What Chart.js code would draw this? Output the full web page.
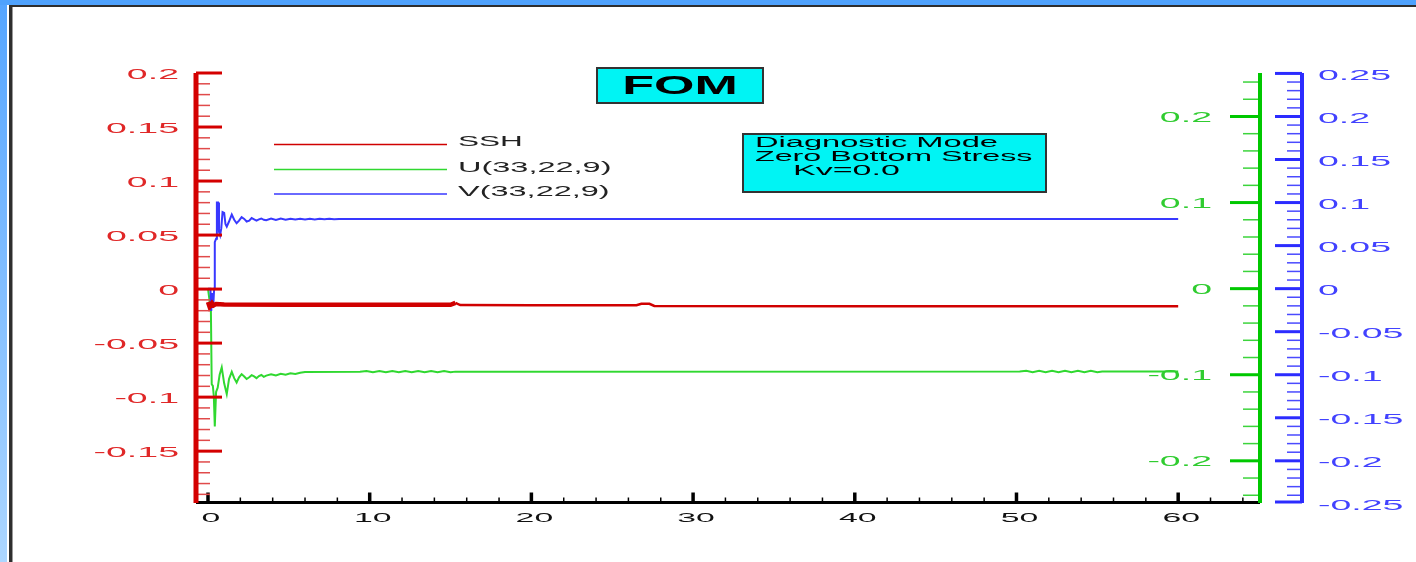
<!DOCTYPE html>
<html>
<head>
<meta charset="utf-8">
<title>FOM</title>
<script src="https://cdn.jsdelivr.net/npm/chart.js@4.4.1/dist/chart.umd.min.js"></script>
<style>
  html, body { margin: 0; padding: 0; background: #fff; overflow: hidden; }
  canvas { display: block; }
</style>
</head>
<body>
<canvas id="c" width="1416" height="562"></canvas>
<script>
// ---- series: time (hours) and values ----
const TIME_SSH = [0, 0.1, 0.25, 0.35, 0.5, 1.0, 5, 10, 15.0, 15.3, 15.6, 20, 26.5, 26.8, 27.3, 27.6, 40, 60];
const SSH      = [-0.012, -0.0165, -0.013, -0.015, -0.0138, -0.0143, -0.0145, -0.0145, -0.0146, -0.0128, -0.0148, -0.0149, -0.0150, -0.0136, -0.0136, -0.0156, -0.0158, -0.0160];

const TIME_U = [0, 0.18, 0.23, 0.3, 0.36, 0.42, 0.5, 0.6, 0.72, 0.85, 1.0, 1.16, 1.3, 1.47, 1.62, 1.77, 1.92, 2.08, 2.24, 2.39, 2.55, 2.7, 2.85, 3.0, 3.15, 3.3, 3.45, 3.6, 3.9, 4.2, 4.5, 4.8, 5.1, 5.4, 5.7, 6.0,
                9.4, 9.8, 10.2, 10.6, 11.0, 11.4, 11.8, 12.2, 12.6, 13.0, 13.4, 13.8, 14.2, 14.6, 15.0, 15.3,
                50.2, 50.6, 51.0, 51.4, 51.8, 52.2, 52.6, 53.0, 53.4, 53.8, 54.2, 54.6, 55.0, 55.3, 60];
const U_VEL  = [0, -0.026, -0.111, -0.113, -0.125, -0.16, -0.12, -0.115, -0.1, -0.0915, -0.11, -0.1225, -0.105, -0.0966, -0.104, -0.109, -0.103, -0.0993, -0.102, -0.105, -0.103, -0.1005, -0.102, -0.104, -0.1015, -0.1003, -0.1025, -0.101, -0.0995, -0.1008, -0.0988, -0.1, -0.0983, -0.0992, -0.0978, -0.0968,
                -0.0965, -0.0957, -0.0972, -0.0957, -0.0972, -0.0957, -0.0972, -0.0957, -0.0972, -0.0957, -0.0972, -0.0957, -0.0972, -0.0957, -0.0972, -0.0964,
                -0.0963, -0.0955, -0.0970, -0.0955, -0.0970, -0.0955, -0.0970, -0.0955, -0.0970, -0.0955, -0.0970, -0.0955, -0.0970, -0.0962, -0.0962];

const TIME_V = [0, 0.15, 0.2, 0.26, 0.32, 0.38, 0.42, 0.5, 0.55, 0.62, 0.68, 0.75, 0.82, 0.9, 1.0, 1.08, 1.16, 1.3, 1.47, 1.62, 1.77, 1.92, 2.08, 2.24, 2.39, 2.55, 2.7, 2.85, 3.0, 3.15, 3.3, 3.45, 3.6, 3.9, 4.2, 4.5, 4.8, 5.1, 5.4, 5.7, 6.0, 6.3, 6.6, 6.9, 7.2, 7.5, 7.8, 8.1, 8.4, 60];
const V_VEL  = [0, 0, -0.026, -0.005, -0.022, 0.0, 0.054, 0.058, 0.1, 0.1, 0.066, 0.062, 0.07, 0.089, 0.088, 0.075, 0.072, 0.078, 0.086, 0.08, 0.076, 0.079, 0.083, 0.081, 0.078, 0.079, 0.082, 0.0805, 0.079, 0.0805, 0.0815, 0.08, 0.0795, 0.0815, 0.0798, 0.0814, 0.08, 0.0813, 0.0802, 0.0813, 0.0803, 0.0813, 0.0804, 0.0812, 0.0805, 0.0812, 0.0806, 0.081, 0.0808, 0.0808];

const SERIES_NAMES = ['SSH', 'U(33,22,9)', 'V(33,22,9)'];

// ---- axis tick labels ----
const X_LABELS   = [0, 10, 20, 30, 40, 50, 60];
const SSH_LABELS = ['0.2', '0.15', '0.1', '0.05', '0', '-0.05', '-0.1', '-0.15'];
const U_LABELS   = ['0.2', '0.1', '0', '-0.1', '-0.2'];
const V_LABELS   = ['0.25', '0.2', '0.15', '0.1', '0.05', '0', '-0.05', '-0.1', '-0.15', '-0.2', '-0.25'];

const TITLE = 'FOM';
const NOTE_LINES = ['Diagnostic Mode', 'Zero Bottom Stress', 'Kv=0.0'];

// ---- colours ----
const RED = '#d40000', RED_TXT = '#e02828';
const GREEN = '#00c800', GREEN_TXT = '#30cc30';
const BLUE = '#2c2cff', BLUE_TXT = '#4242ff';
const LINE_RED = '#d00000', LINE_GREEN = '#30d830', LINE_BLUE = '#3838ff';

const pts = (xs, ys) => xs.map((x, i) => ({ x, y: ys[i] }));

function wideText(ctx, text, x, y, o) {
  ctx.save();
  ctx.font = o.font;
  ctx.fillStyle = o.color;
  ctx.textBaseline = 'middle';
  ctx.textAlign = 'left';
  const w = ctx.measureText(text).width * o.sx;
  const left = o.align === 'right' ? x - w : (o.align === 'center' ? x - w / 2 : x);
  ctx.translate(left, y);
  ctx.scale(o.sx, 1);
  ctx.fillText(text, 0, 0);
  ctx.restore();
}

function hLine(ctx, x0, x1, y, color, w) {
  ctx.strokeStyle = color; ctx.lineWidth = w;
  ctx.beginPath(); ctx.moveTo(x0, y); ctx.lineTo(x1, y); ctx.stroke();
}
function vLine(ctx, x, y0, y1, color, w) {
  ctx.strokeStyle = color; ctx.lineWidth = w;
  ctx.beginPath(); ctx.moveTo(x, y0); ctx.lineTo(x, y1); ctx.stroke();
}

const steps = (from, to, step) => {
  const out = [];
  const n = Math.round((to - from) / step);
  for (let i = 0; i <= n; i++) out.push(+(from + i * step).toFixed(6));
  return out;
};

// window frame, axes, legend and annotation boxes
const decor = {
  id: 'decor',
  beforeDraw(chart) {
    const { ctx, width, height } = chart;
    ctx.save();
    ctx.fillStyle = '#ffffff';
    ctx.fillRect(0, 0, width, height);
    const g = ctx.createLinearGradient(0, 0, 0, height);
    g.addColorStop(0, '#55a5ff');
    g.addColorStop(1, '#acd6ff');
    ctx.fillStyle = g;
    ctx.fillRect(0, 0, 7, height);
    ctx.fillStyle = '#4fa2fd';
    ctx.fillRect(0, 0, width, 5);
    ctx.fillStyle = '#2e2e2e';
    ctx.fillRect(9, 5, 3, height - 5);
    ctx.fillRect(9, 5, width - 9, 2);
    ctx.fillStyle = '#9a9a9a';
    ctx.fillRect(12, 7, 1, height - 7);
    ctx.restore();
  },
  afterDatasetsDraw(chart) {
    const { ctx } = chart;
    const xs = chart.scales.x, yL = chart.scales.yL, yG = chart.scales.yG, yB = chart.scales.yB;
    const top = chart.chartArea.top, bottom = chart.chartArea.bottom;
    const left = chart.chartArea.left, right = chart.chartArea.right;
    ctx.save();
    ctx.lineCap = 'butt';

    // x axis
    const xBase = bottom - 0.5;
    steps(0, 64, 2).forEach(v => {
      const px = xs.getPixelForValue(v);
      if (v % 10 === 0) vLine(ctx, px, xBase, xBase - 10, '#000', 3.5);
      else vLine(ctx, px, xBase, xBase - 5, '#000', 1.5);
    });
    hLine(ctx, left, right, xBase, '#000', 3);
    X_LABELS.forEach(v => {
      wideText(ctx, String(v), xs.getPixelForValue(v) + 3, 518,
        { font: '13px "Liberation Sans"', color: '#111', sx: 2.6, align: 'center' });
    });

    // SSH axis (left)
    const lx = left;
    steps(-0.19, 0.2, 0.01).forEach(v => {
      const py = yL.getPixelForValue(v);
      const major = Math.abs(Math.round(v * 100) % 5) === 0;
      if (major) hLine(ctx, lx, lx + 26, py, RED, 3);
      else hLine(ctx, lx, lx + 14, py, '#e04a4a', 1.5);
    });
    vLine(ctx, lx, top, bottom, RED, 5);
    SSH_LABELS.forEach(t => {
      wideText(ctx, t, 179, yL.getPixelForValue(parseFloat(t)) + 2,
        { font: '15px "Liberation Sans"', color: RED_TXT, sx: 2.5, align: 'right' });
    });

    // U axis (right, inner)
    const gx = right;
    steps(-0.24, 0.24, 0.02).forEach(v => {
      const py = yG.getPixelForValue(v);
      const major = Math.round(v * 100) % 10 === 0;
      if (major) hLine(ctx, gx, gx - 30, py, GREEN, 3);
      else hLine(ctx, gx, gx - 17, py, '#3cd43c', 1.5);
    });
    vLine(ctx, gx, top, bottom, GREEN, 4);
    U_LABELS.forEach(t => {
      wideText(ctx, t, 1212, yG.getPixelForValue(parseFloat(t)) + 1.5,
        { font: '15px "Liberation Sans"', color: GREEN_TXT, sx: 2.5, align: 'right' });
    });

    // V axis (right, outer)
    const bx = yB.left;
    steps(-0.25, 0.25, 0.01).forEach(v => {
      const py = Math.min(yB.getPixelForValue(v), bottom - 1);
      const major = Math.abs(Math.round(v * 100) % 5) === 0;
      if (major) hLine(ctx, bx, bx - 27, py, BLUE, 3);
      else hLine(ctx, bx, bx - 15, py, '#4a4aff', 1.5);
    });
    vLine(ctx, bx, top, bottom, BLUE, 4);
    V_LABELS.forEach(t => {
      wideText(ctx, t, 1318, yB.getPixelForValue(parseFloat(t)) + 2,
        { font: '15px "Liberation Sans"', color: BLUE_TXT, sx: 2.5, align: 'left' });
    });

    // legend
    const legendY = [144.5, 169.5, 194];
    const legendTextY = [142.5, 168, 192.5];
    chart.data.datasets.forEach((ds, i) => {
      hLine(ctx, 274, 447, legendY[i], ds.borderColor, 1.6);
      wideText(ctx, ds.label, 458, legendTextY[i],
        { font: '14px "Liberation Sans"', color: '#222', sx: i === 0 ? 2.25 : 2.32, align: 'left' });
    });

    // title box
    ctx.fillStyle = '#00f4f4';
    ctx.fillRect(596, 67, 168, 37);
    ctx.strokeStyle = '#333'; ctx.lineWidth = 2;
    ctx.strokeRect(597, 68, 166, 35);
    wideText(ctx, TITLE, 680, 87, { font: 'bold 26px "Liberation Sans"', color: '#000', sx: 2.0, align: 'center' });

    // settings box
    ctx.fillStyle = '#00f4f4';
    ctx.fillRect(742, 133, 305, 60);
    ctx.strokeStyle = '#333'; ctx.lineWidth = 2;
    ctx.strokeRect(743, 134, 303, 58);
    const noteX = [755, 755, 793];
    const noteY = [143, 157, 171.5];
    const noteSx = [2.33, 2.3, 2.43];
    NOTE_LINES.forEach((t, i) => {
      wideText(ctx, t, noteX[i], noteY[i], { font: '14px "Liberation Sans"', color: '#000', sx: noteSx[i], align: 'left' });
    });

    ctx.restore();
  }
};

const hiddenAxis = {
  grid: { display: false, drawTicks: false },
  ticks: { display: false },
  border: { display: false }
};

new Chart(document.getElementById('c'), {
  type: 'line',
  data: {
    datasets: [
      {
        label: SERIES_NAMES[0], data: pts(TIME_SSH, SSH), yAxisID: 'yL', order: 0,
        borderColor: LINE_RED, borderWidth: 2.5,
        segment: { borderWidth: c => (c.p0.parsed.x < 15.2 ? 4.5 : 2.5) }
      },
      {
        label: SERIES_NAMES[1], data: pts(TIME_U, U_VEL), yAxisID: 'yG', order: 2,
        borderColor: LINE_GREEN, borderWidth: 2
      },
      {
        label: SERIES_NAMES[2], data: pts(TIME_V, V_VEL), yAxisID: 'yB', order: 1,
        borderColor: LINE_BLUE, borderWidth: 2
      }
    ]
  },
  options: {
    responsive: false,
    animation: false,
    devicePixelRatio: 1,
    parsing: false,
    elements: { point: { radius: 0 }, line: { tension: 0, borderJoinStyle: 'miter' } },
    layout: { padding: { top: 73, left: 0, right: 0, bottom: 0 } },
    plugins: { legend: { display: false }, tooltip: { enabled: false } },
    scales: {
      x: Object.assign({ type: 'linear', position: 'bottom', min: -0.742, max: 65.06,
        afterFit: s => { s.height = 59; } }, hiddenAxis),
      yL: Object.assign({ type: 'linear', position: 'left', min: -0.198, max: 0.2,
        afterFit: s => { s.width = 196; } }, hiddenAxis),
      yG: Object.assign({ type: 'linear', position: 'right', weight: 1, min: -0.249, max: 0.2505,
        afterFit: s => { s.width = 42; } }, hiddenAxis),
      yB: Object.assign({ type: 'linear', position: 'right', weight: 2, min: -0.249, max: 0.2505,
        afterFit: s => { s.width = 114; } }, hiddenAxis)
    }
  },
  plugins: [decor]
});
</script>
</body>
</html>
